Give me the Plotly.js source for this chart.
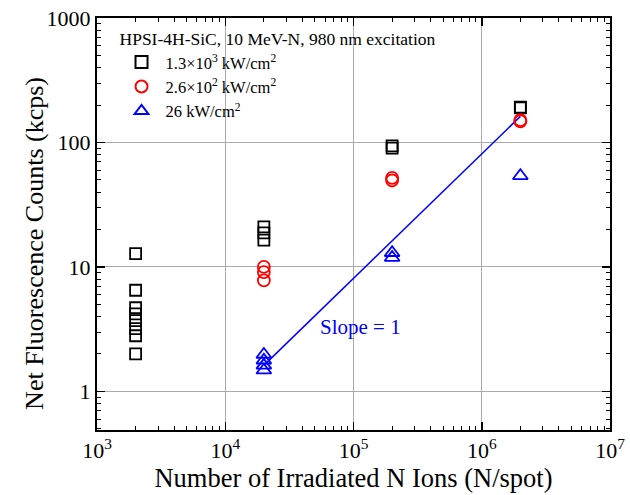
<!DOCTYPE html>
<html><head><meta charset="utf-8">
<script src="https://cdn.plot.ly/plotly-3.0.1.min.js"></script>
<style>body{margin:0;background:#fff}#chart{width:630px;height:495px}</style>
</head><body><div id="chart"></div>
<script>
var sqX = [2000,2000,2000,2000,2000,2000,2000,2000, 20000,20000,20000, 200000,200000, 2000000,2000000];
var sqY = [12.8,6.5,4.7,4.2,3.7,3.2,2.8,2.0, 21,18.8,16.4, 94,90, 192,190];
var ciX = [20000,20000,20000, 200000,200000, 2000000,2000000];
var ciY = [10,9.1,7.8, 52,49.5, 151,148];
var trX = [20000,20000,20000,20000, 200000,200000, 2000000];
var trY = [1.98,1.78,1.62,1.48, 13.0,11.9, 54];
var fitX = [20000, 2000000];
var fitY = [1.62, 162];
var xTickVals = [1e3,1e4,1e5,1e6,1e7];
var xTickText = ['10<sup>3</sup>','10<sup>4</sup>','10<sup>5</sup>','10<sup>6</sup>','10<sup>7</sup>'];
var yTickVals = [1,10,100,1000];
var yTickText = ['1','10','100','1000'];
var minorMult = [2,3,4,5,6,7,8,9];

function minorVals(lo, hi) {
  var out = [];
  for (var e = lo; e < hi; e++) minorMult.forEach(function(m){ out.push(m * Math.pow(10, e)); });
  return out;
}

var font = 'Liberation Serif, Times New Roman, serif';
var traces = [
  {x: fitX, y: fitY, mode:'lines', line:{color:'#0000ff', width:1.5}, showlegend:false, hoverinfo:'skip'},
  {x: sqX, y: sqY, mode:'markers', name:'1.3×10<sup>3</sup> kW/cm<sup>2</sup>',
   marker:{symbol:'square-open', size:11, color:'#000000', line:{width:1.8}}},
  {x: ciX, y: ciY, mode:'markers', name:'2.6×10<sup>2</sup> kW/cm<sup>2</sup>',
   marker:{symbol:'circle-open', size:12, color:'#ff0000', line:{width:1.8}}},
  {x: trX, y: trY, mode:'markers', name:'26 kW/cm<sup>2</sup>',
   marker:{symbol:'triangle-up-open', size:13, color:'#0000ff', line:{width:1.8}}}
];
var layout = {
  width:630, height:495,
  margin:{l:97, r:20, t:18, b:65},
  paper_bgcolor:'#fff', plot_bgcolor:'#fff',
  font:{family:font, color:'#000'},
  showlegend:true,
  legend:{x:0.04, y:0.99, xanchor:'left', yanchor:'top', bgcolor:'rgba(0,0,0,0)',
    title:{text:'HPSI-4H-SiC, 10 MeV-N, 980 nm excitation', font:{size:17.5, family:font}, side:'top'},
    font:{size:16.5, family:font}, tracegroupgap:0, itemsizing:'constant', itemwidth:38},
  xaxis:{type:'log', range:[3,7], tickvals:xTickVals, ticktext:xTickText,
    showgrid:true, gridcolor:'#aaaaaa', gridwidth:1,
    showline:true, linecolor:'#000', linewidth:2, mirror:'ticks',
    ticks:'inside', ticklen:8, tickwidth:1.5, tickcolor:'#000',
    minor:{tickmode:'array', tickvals:minorVals(3,7), ticks:'inside', ticklen:4, tickwidth:1, tickcolor:'#000', showgrid:false},
    tickfont:{size:22, family:font}, zeroline:false,
    title:{text:'Number of Irradiated N Ions (N/spot)', font:{size:26.5, family:font}, standoff:5}},
  yaxis:{type:'log', range:[-0.31,3], tickvals:yTickVals, ticktext:yTickText,
    showgrid:true, gridcolor:'#aaaaaa', gridwidth:1,
    showline:true, linecolor:'#000', linewidth:2, mirror:'ticks',
    ticks:'inside', ticklen:8, tickwidth:1.5, tickcolor:'#000',
    minor:{tickmode:'array', tickvals:minorVals(-1,3), ticks:'inside', ticklen:4, tickwidth:1, tickcolor:'#000', showgrid:false},
    tickfont:{size:22, family:font}, zeroline:false},
  annotations:[
    {x:Math.log10(1.13e5), y:Math.log10(3.27), xref:'x', yref:'y', text:'Slope = 1',
     showarrow:false, font:{size:21, color:'#0000ff', family:font}},
    {x:-0.121, y:0.454, xref:'paper', yref:'paper', text:'Net Fluorescence Counts (kcps)',
     textangle:-90, showarrow:false, xanchor:'center', yanchor:'middle', font:{size:26, family:font}}
  ]
};
Plotly.newPlot('chart', traces, layout, {displayModeBar:false, staticPlot:true});
</script></body></html>
